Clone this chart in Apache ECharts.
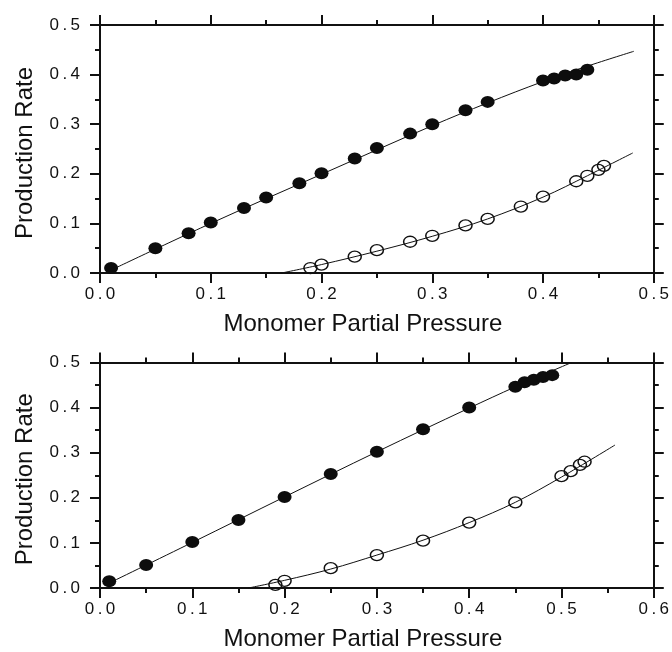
<!DOCTYPE html>
<html>
<head>
<meta charset="utf-8">
<script src="https://cdn.jsdelivr.net/npm/echarts@6/dist/echarts.min.js"></script>
<style>
  html, body { margin: 0; padding: 0; background: #fff; }
  #chart { width: 672px; height: 652px; }
</style>
</head>
<body>
<div id="chart"></div>
<script>
// Upper panel: measured production rates (filled / open) and fitted curves
var topFilled = [
  [0.01, 0.010], [0.05, 0.050], [0.08, 0.080], [0.10, 0.102], [0.13, 0.131],
  [0.15, 0.152], [0.18, 0.181], [0.20, 0.201], [0.23, 0.231], [0.25, 0.252],
  [0.28, 0.281], [0.30, 0.300], [0.33, 0.328], [0.35, 0.345], [0.40, 0.388],
  [0.41, 0.392], [0.42, 0.398], [0.43, 0.400], [0.44, 0.410]
];
var topOpen = [
  [0.19, 0.010], [0.20, 0.017], [0.23, 0.033], [0.25, 0.046], [0.28, 0.063],
  [0.30, 0.075], [0.33, 0.096], [0.35, 0.109], [0.38, 0.134], [0.40, 0.154],
  [0.43, 0.185], [0.44, 0.196], [0.45, 0.208], [0.455, 0.216]
];
var topFilledFit = [
  [0.012, 0.008], [0.10, 0.100], [0.20, 0.199], [0.30, 0.297], [0.35, 0.343],
  [0.40, 0.386], [0.44, 0.417], [0.482, 0.447]
];
var topOpenFit = [
  [0.164, 0.000], [0.20, 0.017], [0.25, 0.044], [0.30, 0.074], [0.35, 0.109],
  [0.40, 0.153], [0.44, 0.196], [0.481, 0.242]
];

// Lower panel
var botFilled = [
  [0.01, 0.015], [0.05, 0.051], [0.10, 0.102], [0.15, 0.151], [0.20, 0.202],
  [0.25, 0.253], [0.30, 0.302], [0.35, 0.352], [0.40, 0.400], [0.45, 0.446],
  [0.46, 0.456], [0.47, 0.462], [0.48, 0.468], [0.49, 0.472]
];
var botOpen = [
  [0.19, 0.007], [0.20, 0.016], [0.25, 0.044], [0.30, 0.073], [0.35, 0.105],
  [0.40, 0.145], [0.45, 0.190], [0.50, 0.248], [0.51, 0.259], [0.52, 0.273],
  [0.525, 0.280]
];
var botFilledFit = [
  [0.008, 0.009], [0.10, 0.101], [0.20, 0.202], [0.30, 0.302], [0.40, 0.399],
  [0.45, 0.446], [0.511, 0.500]
];
var botOpenFit = [
  [0.161, 0.000], [0.20, 0.017], [0.25, 0.042], [0.30, 0.073], [0.35, 0.106],
  [0.40, 0.145], [0.45, 0.190], [0.50, 0.246], [0.558, 0.317]
];

var xTitle = 'Monomer Partial Pressure';
var yTitle = 'Production Rate';
var topXMax = 0.5;
var botXMax = 0.6;
var yMax = 0.5;

var FONT = '"Liberation Sans", Arial, Helvetica, sans-serif';
var INK = '#111111';

function tickText(v) {
  return v.toFixed(1).split('').join('\u2009');
}

function axisCommon(showLabels) {
  return {
    axisLine: { show: true, onZero: false, lineStyle: { color: INK, width: 2 } },
    axisTick: { show: true, inside: false, length: 10, lineStyle: { color: INK, width: 2 } },
    minorTick: { show: true, splitNumber: 2, length: 5, lineStyle: { color: INK, width: 2 } },
    splitLine: { show: false },
    minorSplitLine: { show: false },
    axisLabel: showLabels ? {
      show: true, color: INK, fontFamily: FONT, fontSize: 17, margin: 13, formatter: tickText
    } : { show: false }
  };
}

function xAxes(gridIndex, max) {
  var bottom = Object.assign(axisCommon(true), {
    type: 'value', gridIndex: gridIndex, position: 'bottom', min: 0, max: max, interval: 0.1,
    name: xTitle, nameLocation: 'middle', nameGap: 39,
    nameTextStyle: { color: INK, fontFamily: FONT, fontSize: 24, padding: [0, 28, 0, 0] }
  });
  var top = Object.assign(axisCommon(false), {
    type: 'value', gridIndex: gridIndex, position: 'top', min: 0, max: max, interval: 0.1
  });
  return [bottom, top];
}

function yAxes(gridIndex) {
  var left = Object.assign(axisCommon(true), {
    type: 'value', gridIndex: gridIndex, position: 'left', min: 0, max: yMax, interval: 0.1,
    name: yTitle, nameLocation: 'middle', nameGap: 63,
    nameTextStyle: { color: INK, fontFamily: FONT, fontSize: 24, padding: [0, 8, 0, 0] }
  });
  left.axisLabel.margin = 20;
  var right = Object.assign(axisCommon(false), {
    type: 'value', gridIndex: gridIndex, position: 'right', min: 0, max: yMax, interval: 0.1
  });
  return [left, right];
}

function fitLine(data, xi, yi) {
  return {
    type: 'line', data: data, xAxisIndex: xi, yAxisIndex: yi,
    smooth: 0.35, showSymbol: false, silent: true, z: 2,
    lineStyle: { color: '#111', width: 1 }
  };
}

function filledPts(data, xi, yi) {
  return {
    type: 'scatter', data: data, xAxisIndex: xi, yAxisIndex: yi, z: 4,
    symbol: 'circle', symbolSize: [14, 12],
    itemStyle: { color: '#0d0d0d', borderColor: '#0d0d0d', borderWidth: 0, opacity: 1 }
  };
}

function openPts(data, xi, yi) {
  return {
    type: 'scatter', data: data, xAxisIndex: xi, yAxisIndex: yi, z: 4,
    symbol: 'circle', symbolSize: [13, 11],
    itemStyle: { color: 'rgba(255,255,255,0)', borderColor: '#111', borderWidth: 1.4, opacity: 1 }
  };
}

var chart = echarts.init(document.getElementById('chart'), null, { renderer: 'canvas' });

chart.setOption({
  animation: false,
  backgroundColor: '#ffffff',
  grid: [
    { left: 100, top: 25, width: 560, height: 248 },
    { left: 100, top: 362.5, width: 558, height: 228.5 }
  ],
  xAxis: xAxes(0, topXMax).concat(xAxes(1, botXMax)),
  yAxis: yAxes(0).concat(yAxes(1)),
  series: [
    fitLine(topFilledFit, 0, 0),
    fitLine(topOpenFit, 0, 0),
    filledPts(topFilled, 0, 0),
    openPts(topOpen, 0, 0),
    fitLine(botFilledFit, 2, 2),
    fitLine(botOpenFit, 2, 2),
    filledPts(botFilled, 2, 2),
    openPts(botOpen, 2, 2)
  ]
});
</script>
</body>
</html>
